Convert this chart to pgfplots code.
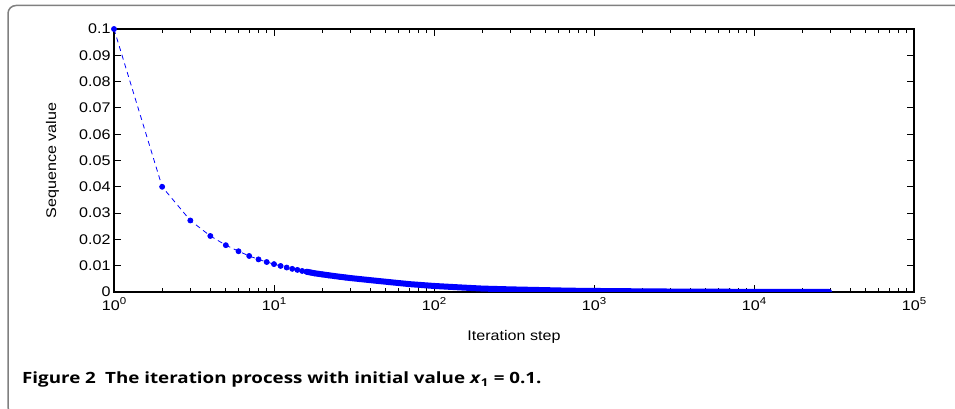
\documentclass[border=0pt]{standalone}
\usepackage{fontspec}
\setmainfont{Liberation Sans}[FakeStretch=1.15]
\newfontfamily\capfont{Open Sans}[FakeStretch=1.21]
\usepackage{pgfplots}
\pgfplotsset{compat=1.18}
\newcommand\e[1]{\raisebox{0.45em}{\fontsize{10}{10}\selectfont #1}}
\begin{document}
\begin{tikzpicture}[x=1pt,y=1pt]
\useasboundingbox (0,0) rectangle (955,409);
\draw[line width=1.5pt, color=black!50, rounded corners=8pt] (1000,-6) -- (8,-6) -- (8,403.5) -- (1000,403.5);
\begin{axis}[
  at={(114pt,117pt)}, anchor=south west, scale only axis,
  width=800pt, height=263pt,
  xmode=log, xmin=1, xmax=100000, ymin=0, ymax=0.1,
  xtick={1,10,100,1000,10000,100000},
  xticklabels={10\e{0},10\e{1},10\e{2},10\e{3},10\e{4},10\e{5}},
  ytick={0,0.01,0.02,0.03,0.04,0.05,0.06,0.07,0.08,0.09,0.1},
  yticklabels={0,0.01,0.02,0.03,0.04,0.05,0.06,0.07,0.08,0.09,0.1},
  axis line style={line width=1.3pt},
  major tick length=7pt, minor tick length=4pt,
  every tick/.style={black, line width=0.9pt},
  tick label style={font=\fontsize{14}{17}\selectfont},
  label style={font=\fontsize{14}{17}\selectfont},
  x tick label style={anchor=base, yshift=-19pt},
  xlabel={Iteration step}, ylabel={Sequence value},
  xlabel style={at={(axis description cs:0.5,-0.1863)}, anchor=base},
  ylabel style={at={(axis description cs:-0.0768,0.5)}, anchor=center},
]
\addplot[blue, line width=0.8pt, dash pattern=on 5pt off 4pt, mark=*, mark size=2.5pt, mark options={solid}]
table[row sep=\\] {
x y \\
1 0.1 \\
2 0.0400 \\
3 0.0272 \\
4 0.0213 \\
5 0.0178 \\
6 0.0155 \\
7 0.0137 \\
8 0.0124 \\
9 0.0114 \\
10 0.0106 \\
11 0.0099 \\
12 0.0093 \\
13 0.0088 \\
14 0.0084 \\
15 0.0080 \\
16 0.0077 \\
17 0.0074 \\
18 0.0071 \\
19 0.0069 \\
20 0.0067 \\
22 0.0063 \\
24 0.0060 \\
26 0.0057 \\
28 0.0055 \\
30 0.0053 \\
};
\addplot[blue, line width=6pt, line cap=round, line join=round]
table[row sep=\\] {
x y \\
16 0.0077 \\
18 0.0071 \\
20 0.0067 \\
25 0.0059 \\
30 0.0053 \\
40 0.0045 \\
50 0.0039 \\
70 0.0030 \\
100 0.0023 \\
150 0.0017 \\
200 0.0013 \\
300 0.0010 \\
500 0.0007 \\
700 0.0005 \\
1000 0.0004 \\
2000 0.00025 \\
3000 0.00018 \\
5000 0.00012 \\
10000 0.00007 \\
20000 0.00004 \\
29500 0.00003 \\
};
\end{axis}
\node[anchor=base west, inner sep=0pt, font=\capfont\bfseries\fontsize{15.5}{18}\selectfont] at (22,25.7) {Figure 2\hspace{0.6em}The iteration process with initial value \textit{x}\textsubscript{1} = 0.1.};
\end{tikzpicture}
\end{document}
